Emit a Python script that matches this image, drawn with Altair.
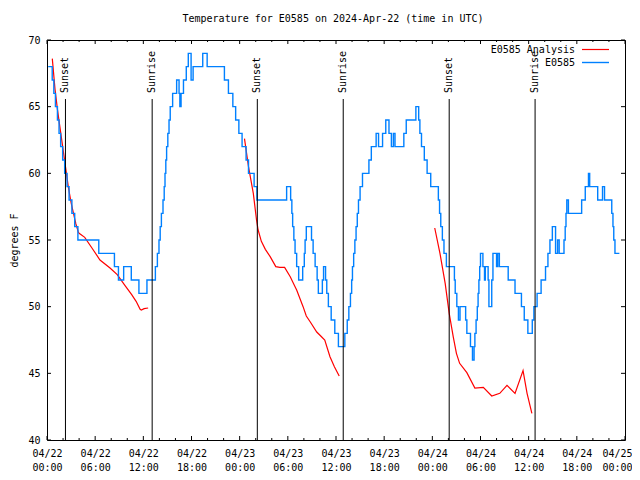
import altair as alt
import pandas as pd

# ---------------- data (hours since 2024-04-22 00:00 UTC, degrees F) ----------------
blue_hours = [
    0.15, 0.65, 0.85, 1.05, 1.3, 1.5, 1.7, 1.95, 2.2, 2.5, 2.75, 3.1, 3.45, 3.85,
    6.45, 8.4, 8.9, 9.55, 10.5, 11.45, 12.45,
    13.5, 13.75, 13.95, 14.1, 14.25, 14.45, 14.6, 14.7, 14.8, 14.9, 15.05, 15.2, 15.35,
    15.65, 16.15, 16.45, 16.55, 16.7, 17.0, 17.35, 17.6, 17.95, 18.2, 19.4, 19.95,
    22.1, 22.6, 23.15, 23.5, 23.9, 24.3, 24.8, 25.1, 25.8, 26.15,
    29.85, 30.35, 30.5, 30.6, 30.75, 30.9, 31.1, 31.35, 31.85, 32.05, 32.15, 32.3,
    32.95, 33.15, 33.4, 33.65, 33.8, 34.3, 34.45, 34.7, 34.85, 35.05, 35.4, 35.85, 36.3,
    37.1, 37.4, 37.6, 37.8, 37.95, 38.05, 38.2, 38.35, 38.5, 38.65, 38.8, 39.0, 39.3,
    40.1, 40.4, 41.0, 41.3, 41.8, 42.2, 42.6, 42.9, 43.15, 43.35, 44.45, 44.75, 45.95,
    46.3, 46.45, 46.65, 47.0, 47.35, 47.8,
    48.75, 48.9, 49.05, 49.25, 49.45, 49.75, 50.75, 50.85, 51.05, 51.25, 51.45, 52.15,
    52.3, 52.75, 53.0, 53.2, 53.3, 53.45, 53.6, 53.7, 53.8, 53.9, 54.0, 54.3, 54.5,
    54.6, 54.95, 55.05, 55.4, 55.55, 56.0, 56.15, 56.35, 57.45, 58.3, 59.1, 59.45,
    59.9, 60.45, 60.65, 61.05, 61.55, 62.1, 62.4, 62.65, 62.95, 63.35, 63.6, 63.8,
    64.4, 64.55, 64.65, 64.75, 64.95, 66.6, 67.05, 67.45, 67.6, 68.6, 69.2, 69.45,
    70.35, 70.5, 70.6, 70.75, 71.3,
]
blue_temps = [
    68, 67, 66, 65, 64, 63, 62, 61, 60, 59, 58, 57, 56, 55,
    54, 53, 52, 53, 52, 51, 52,
    53, 54, 55, 56, 57, 58, 59, 60, 61, 62, 63, 64, 65,
    66, 67, 66, 65, 66, 67, 68, 69, 67, 68, 69, 68,
    67, 66, 65, 64, 63, 62, 61, 60, 59, 58,
    59, 58, 57, 56, 55, 54, 53, 52, 53, 54, 55, 56,
    55, 54, 53, 52, 51, 52, 53, 52, 51, 50, 49, 48, 47,
    48, 49, 50, 51, 52, 53, 54, 55, 56, 57, 58, 59, 60,
    61, 62, 63, 62, 63, 64, 63, 62, 63, 62, 63, 64, 65,
    64, 63, 62, 61, 60, 59,
    58, 57, 56, 55, 54, 53, 52, 51, 50, 49, 50, 49,
    48, 47, 46, 47, 48, 49, 50, 51, 52, 53, 54, 53, 52,
    53, 52, 50, 52, 54, 53, 54, 53, 52, 51, 50, 49,
    48, 49, 50, 51, 52, 53, 54, 55, 56, 54, 55, 54,
    55, 56, 57, 58, 57, 58, 59, 60, 59, 58, 59, 58,
    57, 56, 55, 54, 54,
]

red_hours_1 = [0.66, 1.0, 1.3, 1.6, 2.0, 2.3, 2.65, 3.0, 3.3, 3.6, 3.9, 4.0, 4.7, 5.6,
               6.6, 7.85, 8.75, 9.7, 10.55, 11.1, 11.6, 11.75, 12.1, 12.6]
red_temps_1 = [68.6, 66.3, 64.8, 63.5, 61.8, 60.5, 59.0, 57.8, 57.0, 56.2, 55.6, 55.5, 55.2, 54.4,
               53.5, 52.9, 52.4, 51.6, 50.9, 50.4, 49.8, 49.75, 49.85, 49.9]
red_hours_2 = [24.6, 25.1, 25.7, 26.1, 26.3, 26.7, 27.2, 27.8, 28.5, 29.0, 29.6, 30.3, 30.9,
               31.1, 31.9, 32.3, 32.8, 33.6, 34.1, 34.6, 35.25, 35.8, 36.4]
red_temps_2 = [62.6, 60.5, 58.5, 56.5, 55.75, 54.9, 54.3, 53.75, 53.0, 52.95, 52.95, 52.25, 51.5,
               51.25, 50.0, 49.3, 48.85, 48.1, 47.8, 47.5, 46.25, 45.5, 44.8]
red_hours_3 = [48.3, 48.95, 49.6, 50.1, 50.6, 51.0, 51.4, 52.3, 53.3, 54.35, 55.4, 56.4,
               57.3, 58.3, 59.3, 59.8, 60.4]
red_temps_3 = [55.9, 54.0, 51.75, 49.5, 47.75, 46.5, 45.75, 45.05, 43.9, 43.95, 43.3, 43.5,
               44.1, 43.5, 45.2, 43.5, 42.0]

sun_hours = [2.3, 13.1, 26.2, 36.9, 50.1, 60.8]
sun_labels = ["Sunset", "Sunrise", "Sunset", "Sunrise", "Sunset", "Sunrise"]

x_major = [0, 6, 12, 18, 24, 30, 36, 42, 48, 54, 60, 66, 72]
x_minor = [2, 4, 8, 10, 14, 16, 20, 22, 26, 28, 32, 34, 38, 40, 44, 46, 50, 52, 56, 58,
           62, 64, 68, 70]
y_major = [40, 45, 50, 55, 60, 65, 70]

title_text = "Temperature for E0585 on 2024-Apr-22 (time in UTC)"
legend_names = ["E0585 Analysis", "E0585"]
RED = "#ff0000"
BLUE = "#0080ff"
FONT = "DejaVu Sans Mono"
W, H = 578, 400

# ---------------- tables ----------------
blue_df = pd.DataFrame({"h": blue_hours, "t": blue_temps})
red_df = pd.concat([
    pd.DataFrame({"h": red_hours_1, "t": red_temps_1, "seg": 1}),
    pd.DataFrame({"h": red_hours_2, "t": red_temps_2, "seg": 2}),
    pd.DataFrame({"h": red_hours_3, "t": red_temps_3, "seg": 3}),
], ignore_index=True)
sun_df = pd.DataFrame({"h": sun_hours, "label": sun_labels})
xmaj_df = pd.DataFrame({"h": x_major})
xmin_df = pd.DataFrame({"h": x_minor})
ymaj_df = pd.DataFrame({"t": y_major})

xs = alt.Scale(domain=[0, 72], nice=False, zero=False)
ys = alt.Scale(domain=[40, 70], nice=False, zero=False)

x_axis = alt.Axis(
    values=x_major,
    labelExpr="['04/' + (22 + floor(datum.value / 24)), "
              "(datum.value % 24 < 10 ? '0' : '') + (datum.value % 24) + ':00']",
    ticks=False, domain=False, grid=False,
    labelFont=FONT, labelFontSize=10, labelColor="black",
    labelPadding=8, labelLineHeight=14, labelBaseline="top",
    labelAlign={"condition": {"test": "datum.value >= 72", "value": "right"}, "value": "center"},
    labelOffset={"condition": {"test": "datum.value >= 72", "value": 7}, "value": 0},
    labelOverlap=False, labelFlush=False, title=None,
)
y_axis = alt.Axis(
    values=y_major, ticks=False, domain=False, grid=False,
    labelFont=FONT, labelFontSize=10, labelColor="black", labelPadding=7,
    title="degrees F", titleFont=FONT, titleFontSize=10, titleFontWeight="normal",
    titleColor="black", titleAngle=270, titleX=-33, titleY=200,
    titleAlign="center", titleBaseline="middle",
)


def X():
    return alt.X("h:Q", scale=xs, axis=x_axis)


def Y():
    return alt.Y("t:Q", scale=ys, axis=y_axis)


red = alt.Chart(red_df).mark_line(color=RED, strokeWidth=1.2).encode(
    x=X(), y=Y(), detail="seg:N",
)

blue = alt.Chart(blue_df).mark_line(color=BLUE, strokeWidth=1.4, interpolate="step-after").encode(
    x=X(), y=Y(),
)

sun_rules = alt.Chart(sun_df).mark_rule(color="black", strokeWidth=1).encode(
    x=X(), y=alt.value(59), y2=alt.value(H),
)
sun_text = alt.Chart(sun_df).mark_text(
    angle=270, align="left", baseline="middle", font=FONT, fontSize=10, color="black"
).encode(
    x=X(), y=alt.value(53), text="label:N",
)

tick_style = dict(color="black", strokeWidth=1)
xt_bot_maj = alt.Chart(xmaj_df).mark_rule(**tick_style).encode(
    x=X(), y=alt.value(H), y2=alt.value(H - 4))
xt_top_maj = alt.Chart(xmaj_df).mark_rule(**tick_style).encode(
    x=X(), y=alt.value(0), y2=alt.value(4))
xt_bot_min = alt.Chart(xmin_df).mark_rule(**tick_style).encode(
    x=X(), y=alt.value(H), y2=alt.value(H - 2))
xt_top_min = alt.Chart(xmin_df).mark_rule(**tick_style).encode(
    x=X(), y=alt.value(0), y2=alt.value(2))
yt_left = alt.Chart(ymaj_df).mark_rule(**tick_style).encode(
    y=Y(), x=alt.value(0), x2=alt.value(4))
yt_right = alt.Chart(ymaj_df).mark_rule(**tick_style).encode(
    y=Y(), x=alt.value(W), x2=alt.value(W - 4))

title_df = pd.DataFrame({"title": [title_text]})
title_mark = alt.Chart(title_df).mark_text(
    align="center", baseline="middle", font=FONT, fontSize=10, color="black"
).encode(x=alt.value(W / 2 - 3), y=alt.value(-21), text="title:N")

leg_df_red = pd.DataFrame({"name": [legend_names[0]]})
leg_df_blue = pd.DataFrame({"name": [legend_names[1]]})
leg_text_red = alt.Chart(leg_df_red).mark_text(
    align="right", baseline="middle", font=FONT, fontSize=10, color="black"
).encode(x=alt.value(528), y=alt.value(10), text="name:N")
leg_text_blue = alt.Chart(leg_df_blue).mark_text(
    align="right", baseline="middle", font=FONT, fontSize=10, color="black"
).encode(x=alt.value(528), y=alt.value(23), text="name:N")
leg_line_red = alt.Chart(leg_df_red).mark_rule(color=RED, strokeWidth=1.2).encode(
    x=alt.value(535), x2=alt.value(562), y=alt.value(9.5))
leg_line_blue = alt.Chart(leg_df_blue).mark_rule(color=BLUE, strokeWidth=1.4).encode(
    x=alt.value(535), x2=alt.value(562), y=alt.value(22.5))

chart = alt.layer(
    red, blue, sun_rules, sun_text,
    xt_bot_maj, xt_top_maj, xt_bot_min, xt_top_min, yt_left, yt_right,
    title_mark, leg_text_red, leg_text_blue, leg_line_red, leg_line_blue,
).properties(
    width=W, height=H,
    padding={"left": 39, "top": 32, "right": 7, "bottom": 32},
    autosize=alt.AutoSizeParams(type="none"),
    background="white",
).configure_view(stroke="black", strokeWidth=1)

chart.save("out.html", embed_options={"renderer": "svg", "actions": False})
